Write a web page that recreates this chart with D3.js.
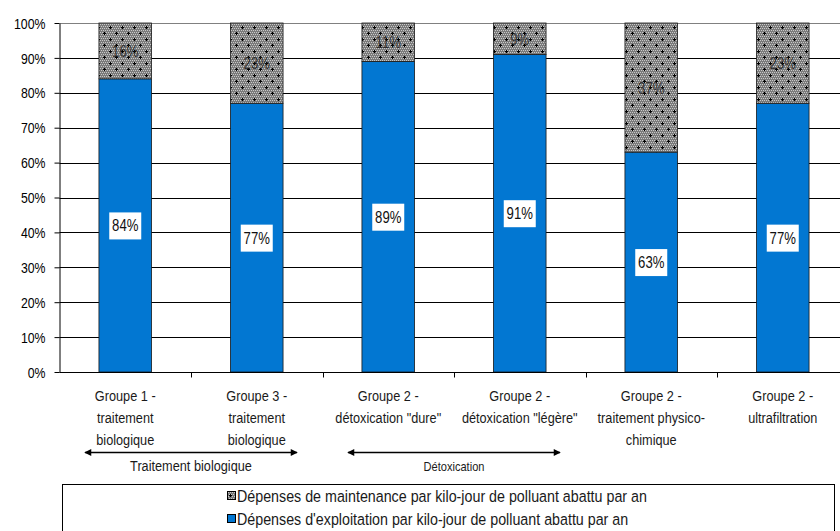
<!DOCTYPE html>
<html>
<head>
<meta charset="utf-8">
<script src="https://cdn.jsdelivr.net/npm/d3@7"></script>
<style>
  html, body { margin: 0; padding: 0; background: #fff; }
  svg { display: block; font-family: "Liberation Sans", Arial, sans-serif; }
</style>
</head>
<body>
<svg id="chart" width="840" height="531"></svg>
<script>
// Catégories (lignes de libellé) et parts des dépenses
const categories = [
  ["Groupe 1 -", "traitement", "biologique"],
  ["Groupe 3 -", "traitement", "biologique"],
  ["Groupe 2 -", "détoxication \"dure\""],
  ["Groupe 2 -", "détoxication \"légère\""],
  ["Groupe 2 -", "traitement physico-", "chimique"],
  ["Groupe 2 -", "ultrafiltration"]
];
const exploitation = [84, 77, 89, 91, 63, 77];
const maintenance = [16, 23, 11, 9, 37, 23];
const yTicks = [0, 10, 20, 30, 40, 50, 60, 70, 80, 90, 100];
const seriesNames = [
  "Dépenses de maintenance par kilo-jour de polluant abattu par an",
  "Dépenses d'exploitation par kilo-jour de polluant abattu par an"
];
const groupSpans = [
  { label: "Traitement biologique", from: 0, to: 1, size: 15.5 },
  { label: "Détoxication", from: 2, to: 3, size: 13.5 }
];

const svg = d3.select("#chart");
const blue = "#0277d2";
const NARROW = 0.82; // compression horizontale du texte (police étroite)

// Motif pointillé gris des dépenses de maintenance
const defs = svg.append("defs");
const pat = defs.append("pattern")
  .attr("id", "dots").attr("patternUnits", "userSpaceOnUse")
  .attr("width", 12).attr("height", 12);
pat.append("rect").attr("width", 12).attr("height", 12).attr("fill", "#7a7a7a");
for (let i = 0; i < 12; i += 2) {
  for (let j = 0; j < 12; j += 2) {
    pat.append("rect").attr("x", i + ((j / 2) % 2)).attr("y", j).attr("width", 1).attr("height", 1).attr("fill", "#c8c8c8");
  }
}
[[2, 3], [8, 9]].forEach(([cx, cy]) => {
  pat.append("rect").attr("x", cx - 1).attr("y", cy).attr("width", 3).attr("height", 1).attr("fill", "#000");
  pat.append("rect").attr("x", cx).attr("y", cy - 1).attr("width", 1).attr("height", 3).attr("fill", "#000");
});

const x = d3.scaleBand()
  .domain(d3.range(categories.length))
  .range([59.5, 848.5])
  .paddingInner(0.6)
  .paddingOuter(0.3);

const y = d3.scaleLinear().domain([0, 100]).range([372, 23]);

// Grille horizontale
svg.append("g").selectAll("line")
  .data(yTicks.filter(t => t > 0))
  .join("line")
  .attr("x1", 59.5).attr("x2", 840)
  .attr("y1", d => Math.round(y(d)) + 0.5).attr("y2", d => Math.round(y(d)) + 0.5)
  .attr("stroke", d => d === 100 ? "#808080" : "#000")
  .attr("stroke-width", 1);

// Axe des ordonnées
const yAxis = svg.append("g")
  .attr("transform", "translate(59.5,0)")
  .call(d3.axisLeft(y).tickValues(yTicks).tickFormat(d => d + "%").tickSize(5).tickSizeOuter(0));
yAxis.select(".domain").attr("stroke", "#000");
yAxis.selectAll(".tick line").attr("stroke", "#000");
yAxis.selectAll("text").attr("font-size", 15).attr("fill", "#000").attr("x", -14).attr("dy", "0.34em");

// Barres empilées
const bars = svg.append("g");
categories.forEach((c, i) => {
  bars.append("rect")
    .attr("x", x(i)).attr("width", x.bandwidth())
    .attr("y", y(exploitation[i])).attr("height", y(0) - y(exploitation[i]))
    .attr("fill", blue).attr("stroke", "#1a1a1a").attr("stroke-width", 0.8);
  bars.append("rect")
    .attr("x", x(i)).attr("width", x.bandwidth())
    .attr("y", y(exploitation[i] + maintenance[i]))
    .attr("height", y(exploitation[i]) - y(exploitation[i] + maintenance[i]))
    .attr("fill", "url(#dots)").attr("stroke", "#1a1a1a").attr("stroke-width", 0.8);
});

// Étiquettes de valeur
const labels = svg.append("g").attr("font-size", 16).attr("text-anchor", "middle");
categories.forEach((c, i) => {
  const cx = x(i) + x.bandwidth() / 2;
  const ey = y(exploitation[i] / 2);
  labels.append("rect").attr("x", cx - 16).attr("y", ey - 13).attr("width", 32).attr("height", 27).attr("fill", "#fff");
  labels.append("text").attr("x", cx).attr("y", ey + 6).attr("fill", "#111").text(exploitation[i] + "%");
  const my = y(exploitation[i] + maintenance[i] / 2);
  labels.append("text").attr("x", cx).attr("y", my + 6).attr("fill", "#1a1a1a").attr("opacity", 0.8).text(maintenance[i] + "%");
});

// Axe des abscisses
const xAxisG = svg.append("g");
xAxisG.append("line").attr("x1", 59.5).attr("x2", 840).attr("y1", 372.5).attr("y2", 372.5).attr("stroke", "#000");
d3.range(1, categories.length).forEach(i => {
  const tx = Math.round(x(i) - x.step() * x.paddingInner() / 2) + 0.5;
  xAxisG.append("line").attr("x1", tx).attr("x2", tx).attr("y1", 372.5).attr("y2", 377.5).attr("stroke", "#000");
});
categories.forEach((lines, i) => {
  const cx = x(i) + x.bandwidth() / 2;
  const t = xAxisG.append("text").attr("text-anchor", "middle").attr("font-size", 15.5).attr("fill", "#1a1a1a");
  lines.forEach((ln, k) => t.append("tspan").attr("x", cx).attr("y", 401 + k * 22).text(ln));
});

// Flèches de regroupement
defs.append("marker").attr("id", "arrowEnd").attr("viewBox", "0 0 10 10")
  .attr("refX", 9).attr("refY", 5).attr("markerWidth", 9).attr("markerHeight", 7)
  .attr("markerUnits", "userSpaceOnUse").attr("orient", "auto")
  .append("path").attr("d", "M0,0 L10,5 L0,10 z").attr("fill", "#000");
defs.append("marker").attr("id", "arrowStart").attr("viewBox", "0 0 10 10")
  .attr("refX", 1).attr("refY", 5).attr("markerWidth", 9).attr("markerHeight", 7)
  .attr("markerUnits", "userSpaceOnUse").attr("orient", "auto")
  .append("path").attr("d", "M10,0 L0,5 L10,10 z").attr("fill", "#000");

groupSpans.forEach(g => {
  const x1 = x(g.from) - 14;
  const x2 = x(g.to) + x.bandwidth() + 14;
  svg.append("line").attr("x1", x1).attr("x2", x2).attr("y1", 452.5).attr("y2", 452.5)
    .attr("stroke", "#000").attr("stroke-width", 1.5)
    .attr("marker-start", "url(#arrowStart)").attr("marker-end", "url(#arrowEnd)");
  svg.append("text").attr("x", (x1 + x2) / 2).attr("y", 471)
    .attr("text-anchor", "middle").attr("font-size", g.size).attr("fill", "#1a1a1a")
    .text(g.label);
});

// Légende
const leg = svg.append("g");
leg.append("rect").attr("x", 62.5).attr("y", 484.5).attr("width", 772).attr("height", 60)
  .attr("fill", "#fff").attr("stroke", "#000").attr("stroke-width", 1);
const swatches = ["url(#dots)", blue];
seriesNames.forEach((name, k) => {
  const ly = 496 + k * 23;
  leg.append("rect").attr("x", 227.5).attr("y", ly - 4.5).attr("width", 8).attr("height", 8)
    .attr("fill", swatches[k]).attr("stroke", "#000");
  leg.append("text").attr("x", 237).attr("y", ly + 6).attr("font-size", 17.4).attr("fill", "#1a1a1a").text(name);
});

// Police étroite : on resserre chaque ligne de texte
svg.selectAll("text").each(function () {
  const spans = d3.select(this).selectAll("tspan");
  const targets = spans.empty() ? [this] : spans.nodes();
  targets.forEach(node => {
    const w = node.getComputedTextLength();
    d3.select(node).attr("textLength", (w * NARROW).toFixed(1)).attr("lengthAdjust", "spacingAndGlyphs");
  });
});
</script>
</body>
</html>
